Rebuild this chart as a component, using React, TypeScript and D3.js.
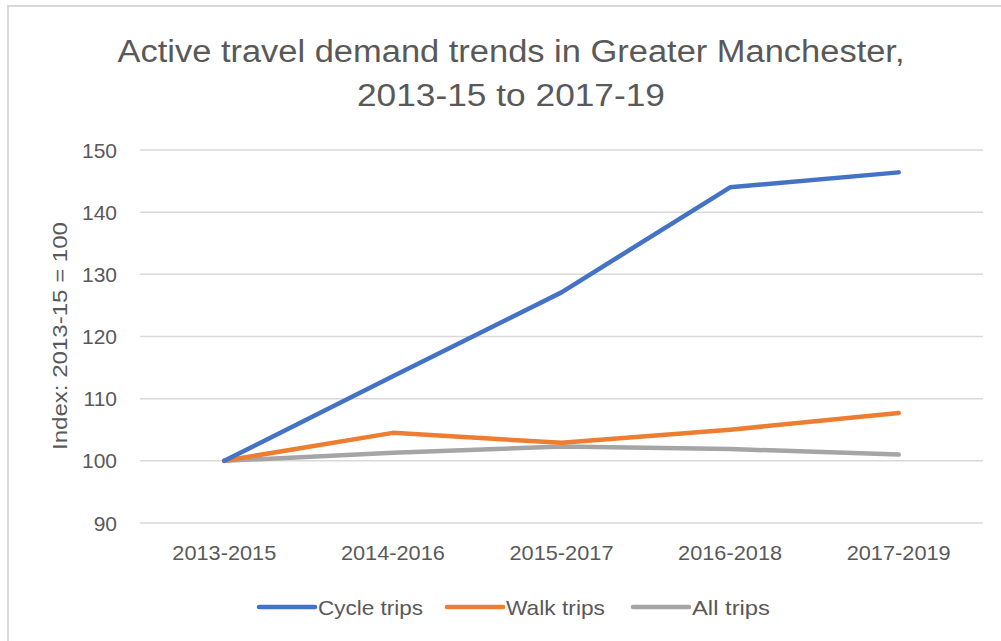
import { useMemo } from "react";
import * as d3 from "d3";

// ---------------------------------------------------------------------------
// Data
// ---------------------------------------------------------------------------

const CATEGORIES = ["2013-2015", "2014-2016", "2015-2017", "2016-2018", "2017-2019"];
const CYCLE_TRIPS = [100, 113.6, 127.1, 144.0, 146.4];
const WALK_TRIPS = [100, 104.5, 102.9, 105.0, 107.7];
const ALL_TRIPS = [100, 101.3, 102.3, 101.9, 101.0];
const Y_TICKS = [90, 100, 110, 120, 130, 140, 150];

const SERIES = [
  { name: "Cycle trips", values: CYCLE_TRIPS, color: "#4472C4" },
  { name: "Walk trips", values: WALK_TRIPS, color: "#ED7D31" },
  { name: "All trips", values: ALL_TRIPS, color: "#A5A5A5" },
];

const FONT = "'Liberation Sans Narrow', 'Liberation Sans', Arial, sans-serif";
const TEXT = "#595959";

export default function App() {
  const width = 1001;
  const height = 641;
  const plot = { left: 140, right: 983, top: 150, bottom: 523 };

  const x = useMemo(
    () => d3.scalePoint<string>().domain(CATEGORIES).range([plot.left, plot.right]).padding(0.5),
    []
  );
  const y = useMemo(
    () => d3.scaleLinear().domain([90, 150]).range([plot.bottom, plot.top]),
    []
  );

  const line = d3
    .line<number>()
    .x((_d, i) => x(CATEGORIES[i])!)
    .y((d) => y(d));

  // legend layout (line start, text width)
  const legend = [
    { lx: 259, w: 105 },
    { lx: 447, w: 99 },
    { lx: 633, w: 78 },
  ];

  return (
    <svg
      width={width}
      height={height}
      style={{ position: "absolute", left: 0, top: 0, background: "#fff" }}
    >
      {/* chart frame */}
      <line x1={7} y1={6} x2={width} y2={6} stroke="#d9d9d9" strokeWidth={2} />
      <line x1={8} y1={5} x2={8} y2={height} stroke="#d9d9d9" strokeWidth={2} />

      {/* title */}
      <text
        x={511}
        y={62}
        textAnchor="middle"
        fontFamily={FONT}
        fontSize={31}
        fill={TEXT}
        textLength={787}
        lengthAdjust="spacingAndGlyphs"
      >
        Active travel demand trends in Greater Manchester,
      </text>
      <text
        x={511}
        y={106}
        textAnchor="middle"
        fontFamily={FONT}
        fontSize={31}
        fill={TEXT}
        textLength={308}
        lengthAdjust="spacingAndGlyphs"
      >
        2013-15 to 2017-19
      </text>

      {/* gridlines + y ticks */}
      {Y_TICKS.map((t) => (
        <g key={t}>
          <line
            x1={plot.left}
            x2={plot.right}
            y1={y(t)}
            y2={y(t)}
            stroke="#d9d9d9"
            strokeWidth={1.5}
          />
          <text
            x={117}
            y={y(t)}
            dy="0.36em"
            textAnchor="end"
            fontFamily={FONT}
            fontSize={21}
            fill={TEXT}
          >
            {t}
          </text>
        </g>
      ))}

      {/* y axis title */}
      <text
        transform={`translate(67, 336) rotate(-90)`}
        textAnchor="middle"
        fontFamily={FONT}
        fontSize={21}
        fill={TEXT}
        textLength={228}
        lengthAdjust="spacingAndGlyphs"
      >
        Index: 2013-15 = 100
      </text>

      {/* x labels */}
      {CATEGORIES.map((c) => (
        <text
          key={c}
          x={x(c)}
          y={560}
          textAnchor="middle"
          fontFamily={FONT}
          fontSize={21}
          fill={TEXT}
          textLength={104}
          lengthAdjust="spacingAndGlyphs"
        >
          {c}
        </text>
      ))}

      {/* series lines (gray first so blue sits on top) */}
      {[...SERIES].reverse().map((s) => (
        <path
          key={s.name}
          d={line(s.values) ?? ""}
          fill="none"
          stroke={s.color}
          strokeWidth={4.5}
          strokeLinejoin="round"
          strokeLinecap="round"
        />
      ))}

      {/* legend */}
      {SERIES.map((s, i) => (
        <g key={s.name}>
          <line
            x1={legend[i].lx}
            x2={legend[i].lx + 56}
            y1={607}
            y2={607}
            stroke={s.color}
            strokeWidth={4.5}
            strokeLinecap="round"
          />
          <text
            x={legend[i].lx + 59}
            y={607}
            dy="0.36em"
            fontFamily={FONT}
            fontSize={21}
            fill={TEXT}
            textLength={legend[i].w}
            lengthAdjust="spacingAndGlyphs"
          >
            {s.name}
          </text>
        </g>
      ))}
    </svg>
  );
}
